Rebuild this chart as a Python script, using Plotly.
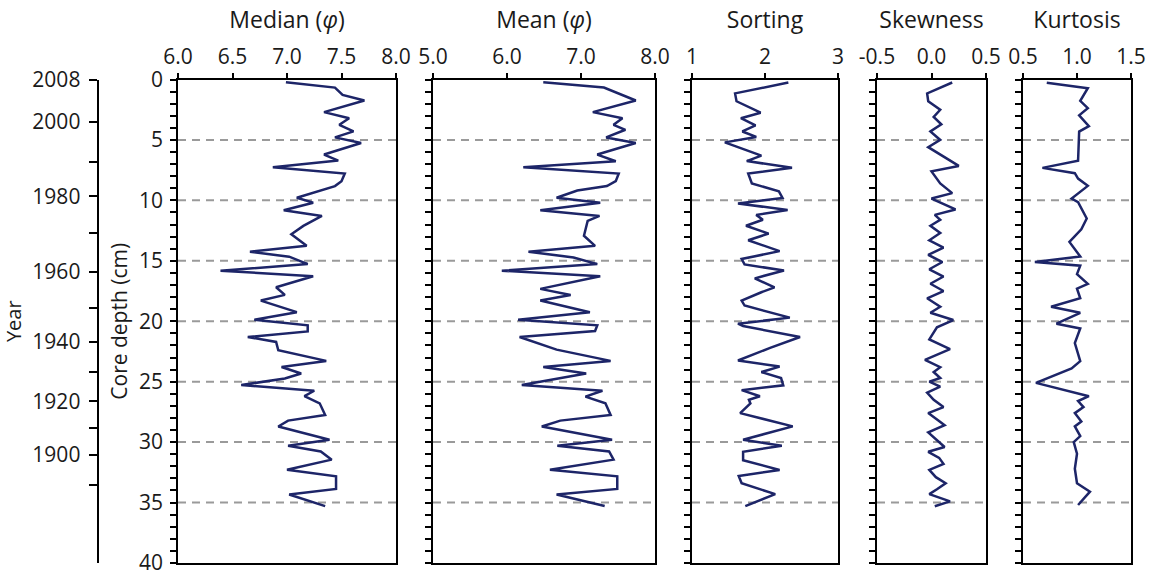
import plotly.graph_objects as go

# ---------------- data ----------------
median_depth = [0.23, 0.67, 1.28, 1.74, 2.70, 3.20, 3.75, 4.29, 4.79, 5.25, 6.21, 6.71, 7.26, 7.78, 8.41,
                8.82, 9.78, 10.19, 10.82, 11.29, 12.11, 12.80, 13.76, 14.25, 14.66, 15.27, 15.82, 16.28,
                17.19, 17.82, 18.29, 19.25, 19.88, 20.34, 20.84, 21.30, 21.71, 22.40, 23.28, 23.78, 24.32,
                24.73, 25.28, 25.75, 26.19, 26.79, 27.75, 28.22, 28.71, 29.81, 30.30, 30.77, 31.45, 32.28,
                32.83, 33.87, 34.33, 35.29]
median_phi = [6.99, 7.44, 7.51, 7.71, 7.34, 7.57, 7.48, 7.61, 7.44, 7.68, 7.34, 7.47, 6.87, 7.53, 7.50,
              7.44, 7.09, 7.24, 6.97, 7.32, 7.15, 7.04, 7.18, 6.66, 7.02, 7.19, 6.39, 7.24,
              6.90, 6.98, 6.76, 7.09, 6.70, 7.19, 7.19, 6.64, 6.90, 6.92, 7.36, 6.95, 7.13,
              6.98, 6.58, 7.25, 7.16, 7.30, 7.35, 7.01, 6.92, 7.39, 7.01, 7.31, 7.41, 7.00,
              7.45, 7.45, 7.02, 7.35]

mean_depth = [0.23, 0.67, 1.74, 2.70, 3.20, 3.75, 4.16, 4.79, 5.25, 6.21, 6.76, 7.26, 7.78, 8.41, 8.82,
              9.18, 9.78, 10.19, 10.82, 11.29, 11.70, 12.52, 12.93, 13.76, 14.25, 14.72, 15.27, 15.82,
              16.28, 17.32, 17.82, 18.29, 19.25, 19.88, 20.34, 20.81, 21.30, 22.35, 23.28, 23.78, 24.32,
              25.28, 25.75, 26.24, 26.79, 27.75, 28.22, 28.71, 29.81, 30.30, 30.77, 31.45, 32.28, 32.83,
              33.87, 34.33, 35.29]
mean_phi = [6.49, 7.31, 7.74, 7.16, 7.56, 7.44, 7.60, 7.34, 7.74, 7.22, 7.47, 6.22, 7.51, 7.47, 7.35,
            6.95, 6.67, 7.26, 6.45, 7.25, 7.09, 7.06, 7.04, 7.19, 6.29, 6.90, 7.22, 5.93,
            7.26, 6.45, 6.86, 6.45, 7.12, 6.15, 7.22, 7.19, 6.17, 6.67, 7.40, 6.49, 7.07,
            6.20, 7.29, 7.06, 7.33, 7.40, 6.72, 6.47, 7.42, 6.68, 7.38, 7.44, 6.58, 7.49,
            7.49, 6.67, 7.32]

sorting_depth = [0.25, 1.15, 1.80, 2.75, 3.20, 3.80, 4.30, 4.75, 5.20, 6.30, 6.75, 7.30, 7.78, 8.60, 9.25,
                 9.80, 10.25, 10.80, 11.20, 11.60, 12.10, 12.75, 13.30, 14.20, 14.85, 15.30, 15.80, 16.45,
                 17.20, 17.60, 18.30, 18.70, 19.70, 20.20, 20.40, 21.30, 22.20, 23.25, 23.75, 24.20, 24.70,
                 25.30, 25.70, 26.20, 26.50, 26.80, 27.60, 28.70, 29.80, 30.30, 30.80, 31.50, 32.30, 32.80,
                 33.40, 34.30, 35.30]
sorting_val = [2.32, 1.59, 1.61, 1.94, 1.67, 1.87, 1.69, 1.88, 1.45, 1.95, 1.75, 2.37, 1.77, 1.82, 2.19,
               2.24, 1.63, 2.31, 1.88, 1.97, 1.74, 2.05, 1.77, 2.20, 1.68, 1.72, 2.26, 1.86,
               2.13, 1.95, 1.68, 1.72, 2.34, 1.63, 1.70, 2.48, 2.07, 1.63, 2.20, 1.95, 2.22,
               2.25, 1.68, 1.93, 1.78, 1.80, 1.66, 2.38, 1.70, 2.23, 1.70, 1.70, 2.20, 1.64,
               1.68, 2.14, 1.73]

skew_depth = [0.25, 1.15, 1.80, 2.50, 3.10, 3.70, 4.30, 5.00, 5.60, 6.10, 7.15, 7.60, 8.60, 9.40, 9.85,
              10.75, 11.20, 11.60, 12.10, 12.70, 13.30, 13.90, 14.50, 15.10, 15.70, 16.30, 16.90, 17.50,
              18.10, 18.80, 19.30, 19.90, 20.50, 21.50, 22.30, 23.20, 23.80, 24.20, 24.70, 25.00, 25.40,
              25.90, 26.50, 27.10, 27.60, 28.20, 28.60, 29.20, 29.90, 30.40, 30.80, 31.30, 31.80, 32.30,
              32.90, 33.40, 33.90, 34.30, 34.90, 35.30]
skew_val = [0.19, -0.04, -0.03, 0.08, 0.02, 0.09, -0.01, 0.08, -0.03, 0.06, 0.25, 0.00, 0.08, 0.19, 0.00,
            0.22, 0.03, 0.08, -0.01, 0.08, -0.02, 0.11, -0.03, 0.10, -0.02, 0.11, -0.01, 0.11,
            -0.04, 0.08, -0.01, 0.20, 0.05, -0.02, 0.17, -0.06, 0.08, 0.02, 0.08, -0.02, 0.08,
            -0.04, 0.02, 0.11, -0.03, 0.06, 0.12, -0.03, 0.06, 0.12, -0.03, 0.07, 0.11, -0.02,
            0.04, 0.13, 0.05, -0.02, 0.17, 0.03]

kurt_depth = [0.27, 0.72, 1.77, 2.37, 2.96, 3.86, 4.31, 6.71, 7.31, 7.75, 8.20, 8.80, 9.85, 10.15, 11.50,
              12.40, 13.44, 14.64, 15.10, 15.40, 16.10, 16.90, 17.30, 18.10, 18.80, 19.30, 20.20, 20.60,
              21.80, 23.30, 23.90, 25.10, 26.20, 26.60, 27.10, 27.60, 28.30, 28.70, 29.50, 30.00, 30.96,
              32.20, 33.40, 34.10, 35.20]
kurt_val = [0.72, 1.10, 1.03, 1.10, 1.02, 1.11, 1.02, 1.01, 0.68, 0.98, 1.01, 1.10, 0.95, 1.01, 1.09,
            1.04, 0.93, 1.03, 0.61, 1.03, 1.00, 1.10, 1.00, 1.03, 0.76, 1.03, 0.81, 1.03,
            0.98, 1.03, 0.95, 0.62, 1.11, 1.01, 1.06, 0.98, 1.04, 0.98, 1.03, 0.97, 1.00,
            0.98, 1.00, 1.12, 1.01]

panel_titles = ["Median (<i>φ</i>)", "Mean (<i>φ</i>)", "Sorting", "Skewness", "Kurtosis"]
x_ranges = [[6, 8], [5, 8], [1, 3], [-0.5, 0.5], [0.5, 1.5]]
x_tickvals = [[6, 6.5, 7, 7.5, 8], [5, 6, 7, 8], [1, 2, 3], [-0.5, 0, 0.5], [0.5, 1.0, 1.5]]
x_ticktext = [["6.0", "6.5", "7.0", "7.5", "8.0"], ["5.0", "6.0", "7.0", "8.0"], ["1", "2", "3"],
              ["-0.5", "0.0", "0.5"], ["0.5", "1.0", "1.5"]]

depth_ticks = list(range(0, 41))
depth_labels = [str(d) if d % 5 == 0 else "" for d in depth_ticks]
dashed_depths = [5, 10, 15, 20, 25, 30, 35]

year_depth = [0, 3.5, 6.8, 9.67, 12.7, 15.93, 18.89, 21.68, 24.16, 26.63, 28.85, 31.07, 33.54]
year_labels = ["2008", "2000", "", "1980", "", "1960", "", "1940", "", "1920", "", "1900", ""]

# ---------------- layout geometry (pixels) ----------------
W, H = 1155, 573
panels_px = [(178, 396), (433, 655), (692, 838), (877, 986), (1023, 1131)]
top_px, bot_px = 79.5, 563
ydom = [1 - bot_px / H, 1 - top_px / H]

FONT = "Open Sans"
LINE_COLOR = "#1d2568"
TICK_SIZE = 21

series = [(median_phi, median_depth), (mean_phi, mean_depth), (sorting_val, sorting_depth),
          (skew_val, skew_depth), (kurt_val, kurt_depth)]

fig = go.Figure()
layout = dict(
    width=W, height=H, margin=dict(l=0, r=0, t=0, b=0, pad=0, autoexpand=False),
    paper_bgcolor="white", plot_bgcolor="white", showlegend=False,
    font=dict(family=FONT, size=TICK_SIZE, color="#1a1a1a"),
)
shapes = []
for i, ((xv, dv), (x0, x1)) in enumerate(zip(series, panels_px)):
    n = i + 1
    xa = "x" if n == 1 else f"x{n}"
    ya = "y" if n == 1 else f"y{n}"
    fig.add_trace(go.Scatter(x=xv, y=dv, mode="lines", xaxis=xa, yaxis=ya,
                             line=dict(color=LINE_COLOR, width=2.5), hoverinfo="skip"))
    layout["xaxis" if n == 1 else f"xaxis{n}"] = dict(
        domain=[x0 / W, x1 / W], anchor=ya, side="top", range=x_ranges[i],
        tickmode="array", tickvals=x_tickvals[i], ticktext=x_ticktext[i],
        ticks="outside", ticklen=5, tickwidth=1.5, tickcolor="black",
        showline=True, linecolor="black", linewidth=1.8, mirror=True,
        showgrid=False, zeroline=False, tickfont=dict(size=TICK_SIZE), automargin=False,
        ticklabeloverflow="allow",
        title=dict(text=panel_titles[i], font=dict(size=23), standoff=7),
    )
    layout["yaxis" if n == 1 else f"yaxis{n}"] = dict(
        domain=ydom, anchor=xa, range=[40, 0], autorange=False,
        tickmode="array", tickvals=depth_ticks,
        ticktext=depth_labels if n == 1 else [""] * len(depth_ticks),
        ticks="outside", ticklen=6, tickwidth=1.5, tickcolor="black",
        showline=True, linecolor="black", linewidth=1.8, mirror=True,
        showgrid=False, zeroline=False, tickfont=dict(size=TICK_SIZE), automargin=False,
        ticklabeloverflow="allow",
    )
    for d in dashed_depths:
        shapes.append(dict(type="line", xref=f"{xa} domain", x0=0, x1=1, yref=ya, y0=d, y1=d,
                           line=dict(color="#9a9a9a", width=2, dash="8px,6px"), layer="below"))

layout["yaxis"]["title"] = dict(text="Core depth (cm)", font=dict(size=21), standoff=6)
layout["yaxis"]["ticklabelstandoff"] = 3

# Year axis
layout["yaxis6"] = dict(
    domain=ydom, anchor="free", position=97.5 / W, overlaying="y", side="left",
    range=[40, 0], autorange=False, tickmode="array", tickvals=year_depth, ticktext=year_labels,
    ticks="outside", ticklen=8, tickwidth=1.5, tickcolor="black", automargin=False,
    showline=True, linecolor="black", linewidth=1.8, showgrid=False, zeroline=False,
    tickfont=dict(size=TICK_SIZE), ticklabelstandoff=4, ticklabeloverflow="allow",
    title=dict(text="Year", font=dict(size=20), standoff=12),
)
fig.add_trace(go.Scatter(x=[None], y=[None], xaxis="x", yaxis="y6", mode="lines",
                         hoverinfo="skip", showlegend=False))

layout["shapes"] = shapes
fig.update_layout(**layout)
fig.write_html("out.html")
